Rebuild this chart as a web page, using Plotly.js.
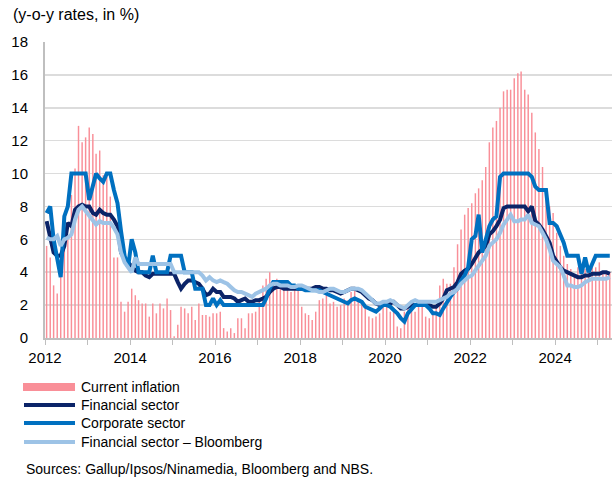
<!DOCTYPE html>
<html>
<head>
<meta charset="utf-8">
<script src="https://cdn.plot.ly/plotly-3.0.1.min.js"></script>
<style>
  html, body { margin: 0; padding: 0; background: #fff; }
  #plot { width: 612px; height: 480px; }
</style>
</head>
<body>
<div id="plot"></div>
<script>
// monthly y-o-y rates, Jan 2012 - Apr 2025
var inflation = [
  5.6, 4.9, 3.2, 2.7, 3.9, 5.5, 6.1, 8.7, 10.3, 12.9, 11.9, 12.2,
  12.8, 12.4, 11.2, 11.4, 9.9, 9.8, 8.6, 4.9, 4.9, 2.2, 1.6, 2.2,
  3.0, 2.6, 2.3, 2.1, 2.1, 1.3, 2.1, 1.5, 2.1, 1.8, 2.4, 1.7,
  0.1, 0.8, 1.9, 1.8, 1.5, 1.9, 1.1, 2.1, 1.4, 1.4, 1.3, 1.5,
  1.5, 1.6, 0.6, 0.4, 0.6, 0.3, 1.2, 1.2, 0.6, 1.5, 1.5, 1.6,
  2.4, 3.2, 3.6, 4.0, 3.5, 3.6, 3.2, 3.2, 3.2, 2.8, 2.9, 3.0,
  1.9, 1.5, 1.4, 1.1, 1.6, 2.3, 2.4, 2.6, 2.1, 2.2, 1.9, 2.0,
  2.4, 2.3, 2.8, 3.1, 2.3, 2.1, 1.9, 1.3, 1.2, 1.3, 1.5, 1.9,
  1.9, 1.6, 1.7, 0.7, 0.6, 1.6, 2.1, 1.9, 1.6, 2.0, 1.9, 1.3,
  1.2, 1.6, 1.9, 3.2, 3.6, 3.3, 3.3, 4.3, 5.7, 6.6, 7.5, 7.9,
  8.2, 8.8, 9.1, 9.6, 10.4, 11.9, 12.8, 13.2, 14.0, 15.0, 15.1, 15.1,
  15.8, 16.1, 16.2, 15.1, 14.8, 13.7, 12.5, 11.5, 10.4, 8.5, 8.0, 7.6,
  6.4, 5.6, 5.0, 4.5, 4.2, 3.8, 4.3, 4.4, 4.2, 4.3, 4.3, 4.3,
  4.6, 4.0, 4.0, 4.0
];

var financial = [
  7.1, 6.0, 5.2, 5.0, 5.0, 5.6, 7.0, 6.8, 7.8, 8.0, 8.1, 8.0,
  8.0, 7.6, 7.5, 7.8, 7.6, 7.5, 7.5, 7.2, 6.8, 5.2, 4.8, 4.6,
  4.3, 4.1, 4.0, 4.0, 3.8, 3.7, 3.9, 3.9, 3.9, 3.9, 3.9, 3.9,
  3.9, 3.4, 3.0, 3.3, 3.5, 3.5, 3.4, 3.3, 3.0, 2.6, 2.7, 3.0,
  2.8, 2.8, 2.5, 2.5, 2.5, 2.4, 2.2, 2.3, 2.4, 2.2, 2.2, 2.3,
  2.3, 2.4, 2.5, 2.8, 3.0, 3.1, 3.1, 3.0, 3.0, 3.0, 3.0, 3.0,
  3.0, 3.0, 3.0, 3.0, 3.1, 3.1, 3.0, 3.0, 2.9, 2.9, 2.8, 2.7,
  2.8, 2.9, 3.0, 3.0, 2.9, 2.8, 2.6, 2.4, 2.3, 2.1, 2.0, 2.0,
  2.0, 2.1, 2.2, 2.0, 1.8, 1.8, 1.9, 2.0, 2.0, 2.0, 2.0, 2.0,
  2.0, 1.9, 1.9, 2.1, 2.4, 2.9, 3.0, 3.1, 3.4, 3.9, 4.1, 4.2,
  4.5, 4.9, 5.2, 5.4, 5.6, 6.3, 6.5, 6.8, 7.2, 7.9, 8.0, 8.0,
  8.0, 8.0, 8.0, 8.0, 7.7, 8.0, 7.1, 6.9, 6.6, 6.2, 5.8, 5.0,
  4.6, 4.3, 4.1, 4.0, 3.9, 3.8, 3.7, 3.7, 3.8, 3.8, 3.9, 3.9,
  3.9, 4.0, 4.0, 3.9
];

var corporate = [
  7.6, 8.0, 6.0, 4.8, 3.7, 7.4, 8.0, 10, 10, 10, 10, 10,
  8.4, 9.3, 10, 9.7, 9.5, 10, 10, 9.0, 8.2, 6.5, 5.0, 4.3,
  6.0, 5.2, 4.0, 4.0, 4.0, 4.0, 5.0, 4.0, 4.0, 4.0, 4.0, 5.0,
  5.0, 5.0, 5.0, 4.0, 4.0, 4.0, 3.0, 3.0, 3.0, 2.0, 2.0, 2.4,
  2.0, 2.3, 2.0, 2.0, 2.0, 2.0, 2.0, 2.0, 2.0, 2.0, 2.0, 2.0,
  2.0, 2.0, 2.4, 3.0, 3.4, 3.4, 3.4, 3.4, 3.4, 3.2, 3.2, 3.0,
  3.0, 2.9, 2.9, 2.9, 2.9, 2.9, 2.8, 2.7, 2.6, 2.5, 2.4, 2.3,
  2.2, 2.1, 2.3, 2.4, 2.3, 2.2, 1.9, 1.8, 1.7, 1.6, 1.8, 2.0,
  2.0, 1.9, 1.7, 1.5, 1.2, 1.0, 1.5, 1.8, 2.0, 2.0, 2.0, 2.0,
  1.8, 1.5, 1.5, 1.4, 1.8, 2.2, 2.5, 2.8, 3.0, 3.5, 3.8, 4.3,
  6.0, 6.2, 7.5, 5.2, 6.0, 6.8, 7.2, 7.4, 9.8, 10, 10, 10,
  10, 10, 10, 10, 10, 9.8, 9.2, 9.0, 9.0, 9.0, 7.0, 7.0,
  6.8, 6.3, 5.8, 5.0, 5.0, 5.0, 5.0, 3.9, 4.9, 4.0, 4.5, 5.0,
  5.0, 5.0, 5.0, 5.0
];

var bloomberg = [
  6.1, 6.0, 6.0, 6.2, 5.6, 6.0, 6.1, 6.3, 7.2, 7.8, 8.0, 7.7,
  7.4, 7.1, 6.9, 7.1, 7.0, 7.0, 7.0, 6.7, 6.3, 5.2, 4.6, 4.3,
  4.0, 4.9, 4.5, 4.5, 4.5, 4.5, 4.5, 4.5, 4.5, 4.5, 4.5, 4.5,
  4.0, 4.0, 4.0, 4.0, 4.0, 4.0, 4.0, 4.0, 3.8, 3.5, 3.7, 3.5,
  3.4, 3.5, 3.4, 3.3, 3.1, 2.9, 2.8, 2.8, 2.7, 2.6, 2.5, 2.7,
  2.8, 2.9, 3.0, 3.2, 3.3, 3.3, 3.2, 3.2, 3.2, 3.1, 3.1, 3.2,
  3.2, 3.1, 3.0, 2.9, 2.9, 2.8, 2.8, 2.9, 3.0, 3.0, 2.9, 2.8,
  2.8, 2.9, 3.0, 3.0, 3.0, 2.9, 2.7, 2.5, 2.3, 2.1, 2.1, 2.2,
  2.2, 2.3, 2.2, 2.0, 1.9, 1.8, 2.0, 2.2, 2.3, 2.2, 2.2, 2.2,
  2.2, 2.2, 2.2, 2.3, 2.4, 2.5, 2.7, 2.8, 3.0, 3.3, 3.5, 3.7,
  3.8, 4.1, 4.3, 4.7, 5.0, 5.6, 5.8, 6.0, 6.4, 6.9, 7.2, 7.5,
  7.1, 7.1, 7.2, 7.2, 7.5, 7.0, 6.9, 6.8, 6.4, 6.0, 5.4, 4.7,
  4.5, 4.3, 3.8, 3.2, 3.2, 3.1, 3.1, 3.2, 3.4, 3.5, 3.6, 3.6,
  3.6, 3.6, 3.6, 3.7
];

var legendNames = ["Current inflation", "Financial sector", "Corporate sector", "Financial sector \u2013 Bloomberg"];
var colors = ["#f98f98", "#0b2468", "#0070c0", "#9dc3e6"];

// month dates (mid-month so marks sit inside each month slot)
var months = [];
for (var i = 0; i < inflation.length; i++) {
  var y = 2012 + Math.floor(i / 12);
  var m = (i % 12) + 1;
  months.push(y + "-" + (m < 10 ? "0" + m : m) + "-15");
}

var font = "Liberation Sans, Arial, sans-serif";

var data = [
  {x: months, y: inflation, type: "bar", name: legendNames[0],
   marker: {color: colors[0]}, hoverinfo: "skip"},
  {x: months, y: financial, type: "scatter", mode: "lines", name: legendNames[1],
   line: {color: colors[1], width: 4}},
  {x: months, y: corporate, type: "scatter", mode: "lines", name: legendNames[2],
   line: {color: colors[2], width: 4}},
  {x: months, y: bloomberg, type: "scatter", mode: "lines", name: legendNames[3],
   line: {color: colors[3], width: 4}}
];

// hand-made legend below the plot (paper coordinates)
function py(pix) { return (338 - pix) / 296; }
function px(pix) { return (pix - 45) / 567; }
var rows = [387, 405, 423, 442];
var shapes = [
  {type: "rect", xref: "paper", yref: "paper", x0: px(23), x1: px(75), y0: py(391), y1: py(383),
   fillcolor: colors[0], line: {width: 0}}
];
for (var k = 1; k < 4; k++) {
  shapes.push({type: "line", xref: "paper", yref: "paper", x0: px(24), x1: px(75),
    y0: py(rows[k]), y1: py(rows[k]), line: {color: colors[k], width: 4}});
}
var annotations = [
  {text: "(y-o-y rates, in %)", xref: "paper", yref: "paper", x: px(11), y: py(15),
   xanchor: "left", yanchor: "middle", showarrow: false, font: {size: 16, color: "#000", family: font}},
  {text: "Sources: Gallup/Ipsos/Ninamedia, Bloomberg and NBS.", xref: "paper", yref: "paper",
   x: px(24), y: py(469), xanchor: "left", yanchor: "middle", showarrow: false,
   font: {size: 14, color: "#000", family: font}}
];
for (var j = 0; j < 4; j++) {
  annotations.push({text: legendNames[j], xref: "paper", yref: "paper", x: px(79), y: py(rows[j]),
    xanchor: "left", yanchor: "middle", showarrow: false, font: {size: 14, color: "#000", family: font}});
}

var layout = {
  width: 612,
  height: 480,
  margin: {l: 45, r: 0, t: 42, b: 142},
  paper_bgcolor: "#fff",
  plot_bgcolor: "#fff",
  showlegend: false,
  bargap: 0.55,
  font: {family: font, size: 15, color: "#000"},
  xaxis: {
    type: "date",
    range: ["2012-01-01", "2025-05-04"],
    tick0: "2012-01-01",
    dtick: "M24",
    tickformat: "%Y",
    ticks: "outside",
    ticklen: 5,
    tickcolor: "#bfbfbf",
    minor: {dtick: "M12", ticks: "outside", ticklen: 5, tickcolor: "#bfbfbf"},
    showline: true,
    linecolor: "#bfbfbf",
    linewidth: 2,
    showgrid: false,
    tickfont: {size: 15}
  },
  yaxis: {
    range: [0, 18],
    dtick: 2,
    showline: true,
    linecolor: "#bfbfbf",
    linewidth: 2,
    gridcolor: "#dcdcdc",
    gridwidth: 1.5,
    zeroline: false,
    ticks: "",
    ticklabelstandoff: 12,
    tickfont: {size: 15}
  },
  shapes: shapes,
  annotations: annotations
};

Plotly.newPlot("plot", data, layout, {staticPlot: true});
</script>
</body>
</html>
